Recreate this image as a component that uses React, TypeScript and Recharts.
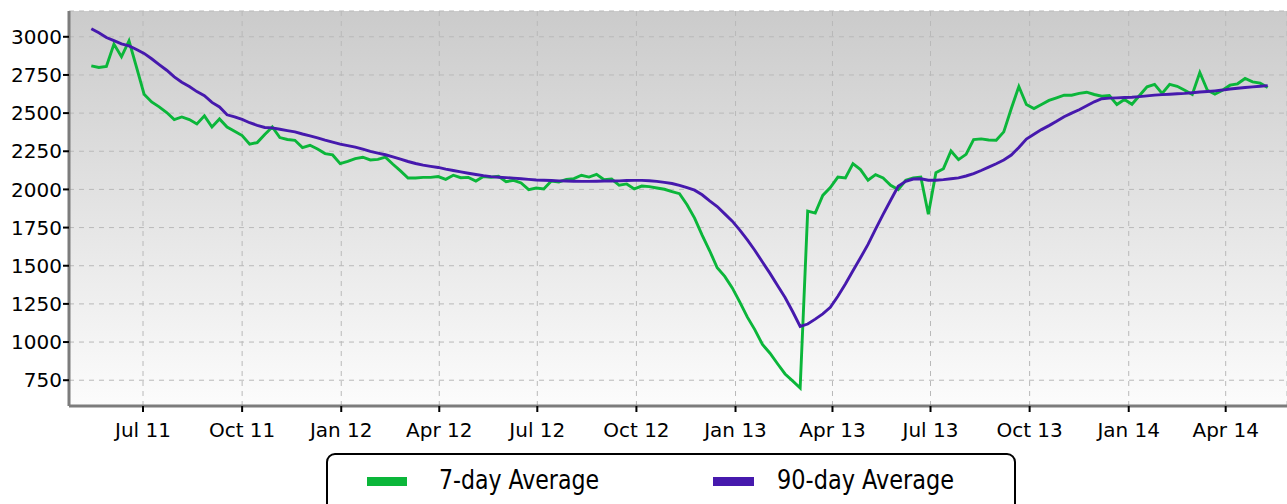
import { CartesianGrid, Legend, Line, LineChart, XAxis, YAxis } from "recharts"

const GREEN = "#0bb63a"
const PURPLE = "#4619ad"

// weekly samples
const weeks = [
    "2011-05-14", "2011-05-21", "2011-05-28", "2011-06-04", "2011-06-11", "2011-06-18", "2011-06-25", "2011-07-02", "2011-07-09", "2011-07-16",
    "2011-07-23", "2011-07-30", "2011-08-06", "2011-08-13", "2011-08-20", "2011-08-27", "2011-09-03", "2011-09-10", "2011-09-17", "2011-09-24",
    "2011-10-01", "2011-10-08", "2011-10-15", "2011-10-22", "2011-10-29", "2011-11-05", "2011-11-12", "2011-11-19", "2011-11-26", "2011-12-03",
    "2011-12-10", "2011-12-17", "2011-12-24", "2011-12-31", "2012-01-07", "2012-01-14", "2012-01-21", "2012-01-28", "2012-02-04", "2012-02-11",
    "2012-02-18", "2012-02-25", "2012-03-03", "2012-03-10", "2012-03-17", "2012-03-24", "2012-03-31", "2012-04-07", "2012-04-14", "2012-04-21",
    "2012-04-28", "2012-05-05", "2012-05-12", "2012-05-19", "2012-05-26", "2012-06-02", "2012-06-09", "2012-06-16", "2012-06-23", "2012-06-30",
    "2012-07-07", "2012-07-14", "2012-07-21", "2012-07-28", "2012-08-04", "2012-08-11", "2012-08-18", "2012-08-25", "2012-09-01", "2012-09-08",
    "2012-09-15", "2012-09-22", "2012-09-29", "2012-10-06", "2012-10-13", "2012-10-20", "2012-10-27", "2012-11-03", "2012-11-10", "2012-11-17",
    "2012-11-24", "2012-12-01", "2012-12-08", "2012-12-15", "2012-12-22", "2012-12-29", "2013-01-05", "2013-01-12", "2013-01-19", "2013-01-26",
    "2013-02-02", "2013-02-09", "2013-02-16", "2013-02-23", "2013-03-02", "2013-03-09", "2013-03-16", "2013-03-23", "2013-03-30", "2013-04-06",
    "2013-04-13", "2013-04-20", "2013-04-27", "2013-05-04", "2013-05-11", "2013-05-18", "2013-05-25", "2013-06-01", "2013-06-08", "2013-06-15",
    "2013-06-22", "2013-06-29", "2013-07-06", "2013-07-13", "2013-07-20", "2013-07-27", "2013-08-03", "2013-08-10", "2013-08-17", "2013-08-24",
    "2013-08-31", "2013-09-07", "2013-09-14", "2013-09-21", "2013-09-28", "2013-10-05", "2013-10-12", "2013-10-19", "2013-10-26", "2013-11-02",
    "2013-11-09", "2013-11-16", "2013-11-23", "2013-11-30", "2013-12-07", "2013-12-14", "2013-12-21", "2013-12-28", "2014-01-04", "2014-01-11",
    "2014-01-18", "2014-01-25", "2014-02-01", "2014-02-08", "2014-02-15", "2014-02-22", "2014-03-01", "2014-03-08", "2014-03-15", "2014-03-22",
    "2014-03-29", "2014-04-05", "2014-04-12", "2014-04-19", "2014-04-26", "2014-05-03", "2014-05-10",
]

const avg7 = [
    2810, 2799, 2806, 2952, 2869, 2974, 2800, 2624, 2573, 2541,
    2504, 2458, 2475, 2458, 2429, 2482, 2409, 2462, 2409, 2381,
    2353, 2296, 2307, 2360, 2409, 2340, 2327, 2322, 2274, 2289,
    2265, 2235, 2226, 2169, 2184, 2202, 2211, 2193, 2197, 2211,
    2165, 2121, 2075, 2075, 2079, 2079, 2084, 2066, 2093, 2077,
    2079, 2055, 2084, 2080, 2086, 2051, 2060, 2042, 1999, 2009,
    2003, 2055, 2049, 2066, 2071, 2093, 2081, 2099, 2064, 2068,
    2027, 2036, 2003, 2022, 2018, 2009, 2001, 1986, 1972, 1900,
    1812, 1700, 1598, 1487, 1430, 1355, 1262, 1163, 1080, 984,
    927, 858, 791, 746, 699, 1858, 1845, 1961, 2012, 2081,
    2075, 2169, 2130, 2060, 2097, 2075, 2027, 1999, 2060, 2075,
    2081, 1837, 2110, 2136, 2252, 2195, 2230, 2327, 2331, 2324,
    2322, 2377, 2530, 2674, 2556, 2530, 2556, 2583, 2600, 2617,
    2617, 2629, 2637, 2622, 2611, 2615, 2556, 2589, 2558, 2615,
    2672, 2688, 2629, 2688, 2676, 2650, 2622, 2766, 2650, 2624,
    2650, 2683, 2692, 2727, 2705, 2696, 2668,
]

const avg90 = [
    3053, 3026, 2995, 2975, 2954, 2940, 2917, 2891, 2856, 2818,
    2781, 2737, 2702, 2674, 2641, 2614, 2570, 2540, 2489, 2476,
    2459, 2437, 2420, 2406, 2403, 2394, 2385, 2377, 2363, 2351,
    2338, 2323, 2310, 2297, 2287, 2277, 2264, 2249, 2238, 2227,
    2213, 2198, 2183, 2170, 2159, 2151, 2144, 2133, 2124, 2115,
    2106, 2098, 2090, 2084, 2080, 2077, 2074, 2070, 2066, 2062,
    2060, 2058, 2056, 2055, 2054, 2053, 2053, 2054, 2055, 2055,
    2056, 2058, 2059, 2059, 2057, 2053, 2046, 2039, 2027, 2012,
    1995, 1965, 1925, 1888, 1840, 1792, 1733, 1669, 1600, 1524,
    1450, 1370, 1292, 1200, 1102, 1118, 1150, 1185, 1228, 1300,
    1380, 1467, 1552, 1640, 1740, 1836, 1929, 2020, 2053, 2068,
    2070, 2060, 2060, 2064, 2070, 2076, 2088, 2104, 2124, 2146,
    2168, 2193, 2225, 2275, 2330, 2362, 2392, 2418, 2446, 2476,
    2500, 2522, 2548, 2574, 2594, 2598, 2600, 2602, 2604, 2608,
    2613, 2618, 2621, 2624, 2627, 2629, 2633, 2638, 2642, 2646,
    2651, 2658, 2663, 2668, 2672, 2676, 2680,
]

const yTicks = [750, 1000, 1250, 1500, 1750, 2000, 2250, 2500, 2750, 3000]

const monthTicks = [
    "2011-07-01", "2011-10-01", "2012-01-01", "2012-04-01", "2012-07-01", "2012-10-01",
    "2013-01-01", "2013-04-01", "2013-07-01", "2013-10-01", "2014-01-01", "2014-04-01",
]
const monthLabels = [
    "Jul 11", "Oct 11", "Jan 12", "Apr 12", "Jul 12", "Oct 12",
    "Jan 13", "Apr 13", "Jul 13", "Oct 13", "Jan 14", "Apr 14",
]

const xStart = "2011-04-23T07:00:00Z"
const xEnd = "2014-05-27T22:00:00Z"

const data = weeks.map((w, i) => ({
    t: Date.parse(w),
    avg7: avg7[i],
    avg90: avg90[i],
}))

const tickTimes = monthTicks.map(d => Date.parse(d))

function formatMonth(v: number) {
    const i = tickTimes.indexOf(v)
    return i >= 0 ? monthLabels[i] : ""
}

const axisFont = { fontFamily: "DejaVu Sans", fontSize: 20, fill: "#000" }

function LegendBox() {
    const font = { fontFamily: "'Liberation Sans Narrow', 'DejaVu Sans Condensed', 'DejaVu Sans', sans-serif", fontSize: 26, fill: "#000" }
    return (
        <svg width={692} height={60} style={{ display: "block" }}>
            <rect x={1} y={1} width={688} height={80} rx={8} fill="#fff" stroke="#000" strokeWidth={2} />
            <rect x={41} y={24} width={40} height={9} fill={GREEN} />
            <text x={113} y={36} textLength={160} lengthAdjust="spacingAndGlyphs" {...font}>7-day Average</text>
            <rect x={387} y={24} width={41} height={9} fill={PURPLE} />
            <text x={451} y={36} textLength={177} lengthAdjust="spacingAndGlyphs" {...font}>90-day Average</text>
        </svg>
    )
}

export default function App() {
    return (
        <div style={{ position: "absolute", left: 0, top: 0, width: 1287, height: 504, overflow: "hidden", background: "#fff" }}>
            <LineChart width={1287} height={504} data={data} margin={{ top: 11, right: 0, bottom: 0, left: 0 }}>
                <defs>
                    <linearGradient id="plotBg" x1="0" y1="0" x2="0" y2="1">
                        <stop offset="0%" stopColor="#cbcbcb" />
                        <stop offset="100%" stopColor="#fcfcfc" />
                    </linearGradient>
                </defs>
                <CartesianGrid stroke="#b9b9b9" strokeDasharray="5 5" fill="url(#plotBg)" fillOpacity={1} />
                <XAxis
                    dataKey="t"
                    type="number"
                    domain={[Date.parse(xStart), Date.parse(xEnd)]}
                    allowDataOverflow
                    ticks={tickTimes}
                    tickFormatter={formatMonth}
                    height={98}
                    tick={axisFont}
                    tickSize={6}
                    tickMargin={11}
                    axisLine={{ stroke: "#7c7c7c", strokeWidth: 3 }}
                    tickLine={{ stroke: "#000", strokeWidth: 2 }}
                />
                <YAxis
                    type="number"
                    domain={[581, 3169]}
                    allowDataOverflow
                    ticks={yTicks}
                    width={69}
                    tick={axisFont}
                    tickSize={6}
                    tickMargin={1}
                    axisLine={{ stroke: "#7c7c7c", strokeWidth: 3 }}
                    tickLine={{ stroke: "#000", strokeWidth: 2 }}
                />
                <Legend
                    layout="horizontal"
                    verticalAlign="middle"
                    align="center"
                    wrapperStyle={{ left: 326, top: 453, width: 692 }}
                    content={() => <LegendBox />}
                />
                <Line name="7-day Average" dataKey="avg7" stroke={GREEN} strokeWidth={2.9} dot={false} type="linear" isAnimationActive={false} />
                <Line name="90-day Average" dataKey="avg90" stroke={PURPLE} strokeWidth={2.9} dot={false} type="linear" isAnimationActive={false} />
            </LineChart>
        </div>
    )
}
